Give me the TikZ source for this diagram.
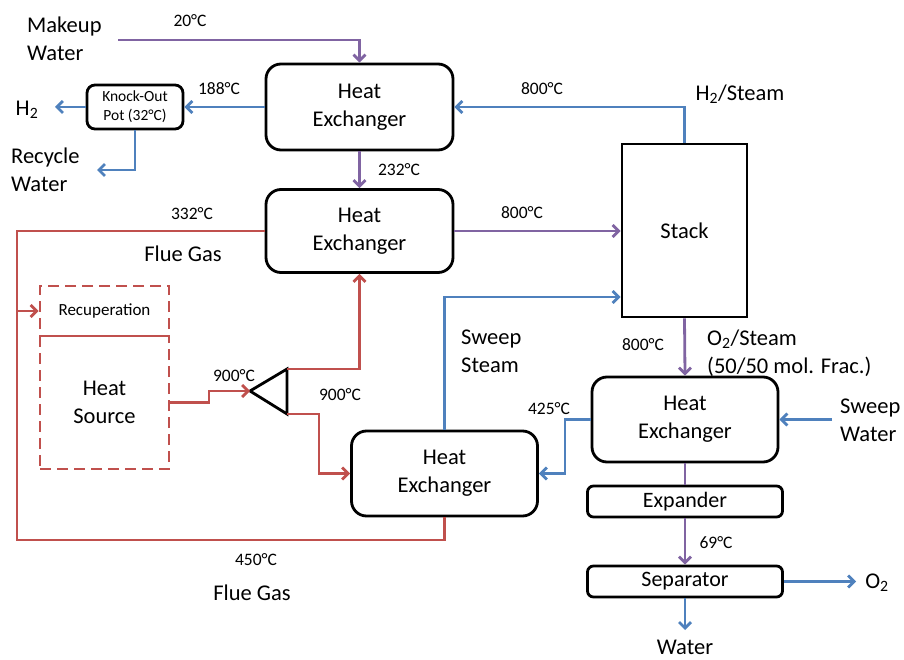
\documentclass[tikz,border=0pt]{standalone}
\usepackage{fontspec}
\setmainfont{Carlito}
\usetikzlibrary{arrows.meta}
\definecolor{pu}{HTML}{8064A2}
\definecolor{bl}{HTML}{4F81BD}
\definecolor{rd}{HTML}{C0504D}
\begin{document}
\begin{tikzpicture}[x=1pt,y=-1pt,
  >={Straight Barb[length=6pt,width=12pt]},
  box/.style={draw, line width=2.8pt, rounded corners=15pt, align=center, inner sep=0pt,
    font=\fontsize{22.5}{28}\selectfont},
  smallbox/.style={draw, line width=2.8pt, rounded corners=7pt, align=center, inner sep=0pt,
    font=\fontsize{22}{26}\selectfont},
  dbox/.style={draw=rd, line width=2.8pt, dash pattern=on 11pt off 6pt, align=center, inner sep=0pt},
  big/.style={font=\fontsize{22.5}{28}\selectfont, inner sep=0pt},
  temp/.style={font=\fontsize{17.5}{21}\selectfont, inner sep=0pt},
  pline/.style={draw=pu, line width=2.8pt},
  bline/.style={draw=bl, line width=2.8pt},
  rline/.style={draw=rd, line width=2.8pt},
]
\useasboundingbox (0,0) rectangle (904,660);

% boxes
\node[box, minimum width=187pt, minimum height=86pt] (hx1) at (359.5,107) {Heat\\Exchanger};
\node[box, minimum width=187pt, minimum height=83pt] (hx2) at (359.5,231) {Heat\\Exchanger};
\node[draw, line width=2.8pt, minimum width=125pt, minimum height=173pt, inner sep=0pt,
  font=\fontsize{22.5}{28}\selectfont] (stack) at (684.5,230.5) {Stack};
\node[box, minimum width=186pt, minimum height=85pt] (hx3) at (685,419.5) {Heat\\Exchanger};
\node[smallbox, minimum width=195pt, minimum height=31pt, rounded corners=6pt] (exp) at (685,501.5) {Expander};
\node[smallbox, minimum width=195pt, minimum height=31pt, rounded corners=6pt] (sep) at (685,581.5) {Separator};
\node[box, minimum width=186pt, minimum height=85pt] (hx4) at (444.5,473.5) {Heat\\Exchanger};
\node[draw, line width=2.8pt, rounded corners=8pt, minimum width=96pt, minimum height=44pt,
  inner sep=0pt, align=center, font=\fontsize{15.5}{19}\selectfont] (ko) at (135,107) {Knock-Out\\Pot (32°C)};
\node[dbox, minimum width=129pt, minimum height=50pt, font=\fontsize{17}{20}\selectfont] (recup) at (104.5,311) {Recuperation};
\node[dbox, minimum width=129pt, minimum height=133pt, font=\fontsize{22.5}{28}\selectfont] (hs) at (104.5,402.5) {Heat\\Source};

% splitter triangle
\coordinate (tl) at (250,391);
\coordinate (tt) at (287,369);
\coordinate (tb) at (287,414);
\draw[line width=2.8pt, line join=miter] (tl) -- (tt) -- (tb) -- cycle;

% free ends
\coordinate (mw) at (118,40);
\coordinate (h2) at (55,107);
\coordinate (rw) at (97,170);
\coordinate (swp) at (832,419.5);
\coordinate (o2) at (856,581.5);
\coordinate (wt) at (685,630);
\coordinate (rc) at (17,311);

% purple
\draw[pline,->] (mw) -| (hx1.north);
\draw[pline,->] (hx1.south) -- (hx2.north);
\draw[pline,->] (hx2.east) -- (hx2.east -| stack.west);
\draw[pline,->] (stack.south) -- (hx3.north);
\draw[pline] (hx3.south) -- (exp.north);
\draw[pline,->] (exp.south) -- (sep.north);

% blue
\draw[bline,->] (hx1.west) -- (ko.east);
\draw[bline,->] (ko.west) -- (h2);
\draw[bline,->] (ko.south) |- (rw);
\draw[bline,->] (stack.north) |- (hx1.east);
\draw[bline,->] (hx4.north) -- (hx4.north |- 0,297) -- (stack.west |- 0,297);
\draw[bline,->] (hx3.west) -- (565,419.5) |- (hx4.east);
\draw[bline,->] (swp) -- (hx3.east);
\draw[bline,->] (sep.east) -- (o2);
\draw[bline,->] (sep.south) -- (wt);

% red
\draw[rline] (hx2.west) -| (17,540) -| (hx4.south);
\draw[rline,->] (rc) -- (recup.west);
\draw[rline,->] (hs.east) -- (209,402.5) -- (209,391) -- (tl);
\draw[rline,->] (tt) -| (hx2.south);
\draw[rline,->] (tb) -- (319,414) |- (hx4.west);

% labels
\node[big, anchor=west, align=left] (lmw) at (27,39) {Makeup\\Water};
\node[temp] (t20) at (190,21) {20°C};
\node[temp] (t188) at (219,89) {188°C};
\node[big] (lh2) at (27,110) {H\textsubscript{2}};
\node[big, anchor=west, align=left] (lrw) at (11,170) {Recycle\\Water};
\node[temp] (t232) at (399,170) {232°C};
\node[temp] (t800a) at (542,89) {800°C};
\node[big] (lh2s) at (740,94) {H\textsubscript{2}/Steam};
\node[temp] (t332) at (192,214) {332°C};
\node[temp] (t800b) at (522,213) {800°C};
\node[big] (lfg1) at (183,254) {Flue Gas};
\node[temp] (t900a) at (234,376) {900°C};
\node[temp] (t900b) at (340,395) {900°C};
\node[big, anchor=west, align=left] (lss) at (461,351) {Sweep\\Steam};
\node[temp] (t800c) at (643,345) {800°C};
\node[big, anchor=west, align=left] (lo2s) at (707,353) {O\textsubscript{2}/Steam\\(50/50 mol. Frac.)};
\node[temp] (t425) at (549,409) {425°C};
\node[big, anchor=west, align=left] (lsw) at (840,420) {Sweep\\Water};
\node[temp] (t69) at (716,543) {69°C};
\node[big] (lo2) at (877,583) {O\textsubscript{2}};
\node[big] (lw) at (685,647) {Water};
\node[temp] (t450) at (256,560) {450°C};
\node[big] (lfg2) at (252,593) {Flue Gas};
\end{tikzpicture}
\end{document}
